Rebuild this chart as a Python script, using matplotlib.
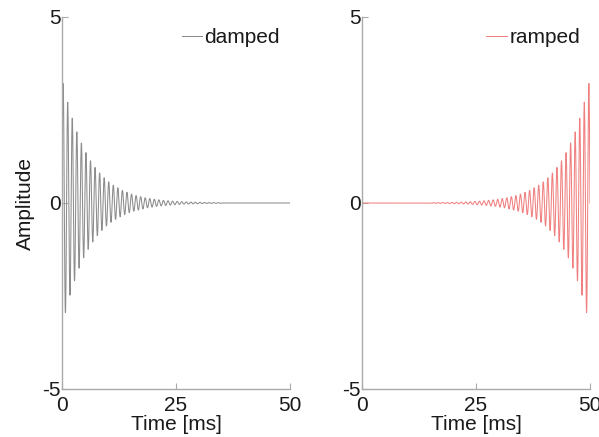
import matplotlib
matplotlib.use("Agg")
import matplotlib.pyplot as plt
import numpy as np

plt.rcParams['font.family'] = ['Liberation Sans', 'DejaVu Sans']
plt.rcParams['axes.unicode_minus'] = False

# half-cycle peak amplitudes of the damped tone (one per 0.5 ms)
half_peaks = [3.23, 2.96, 2.72, 2.49, 2.29, 2.10, 1.92, 1.76, 1.62, 1.48,
              1.36, 1.25, 1.14, 1.05, 0.96, 0.88, 0.81, 0.74, 0.68, 0.62,
              0.57, 0.52, 0.48, 0.44, 0.41, 0.37, 0.34, 0.31, 0.29, 0.26,
              0.24, 0.22, 0.20, 0.19, 0.17, 0.16, 0.14, 0.13, 0.12, 0.11,
              0.10, 0.09, 0.085, 0.078, 0.071, 0.065, 0.060, 0.055, 0.050, 0.046,
              0.042, 0.039, 0.035, 0.032, 0.030, 0.027, 0.025, 0.023, 0.021, 0.019,
              0.017, 0.016, 0.015, 0.013, 0.012, 0.011, 0.010, 0.009, 0.008, 0.007]
half_period = 0.5   # ms
duration = 50       # ms
x_ticks = [0, 25, 50]
y_ticks = [-5, 0, 5]
labels = ['damped', 'ramped']
colors = ['#8c8c8c', '#f08080']

# build the damped tone lobe by lobe from the peak list
n_half = int(duration / half_period)
peaks = np.zeros(n_half)
peaks[:len(half_peaks)] = half_peaks
t_parts, y_parts = [], []
for k in range(n_half):
    tt = np.linspace(k * half_period, (k + 1) * half_period, 16)
    t_parts.append(tt)
    y_parts.append(peaks[k] * np.sin(np.pi * tt / half_period))
t = np.concatenate(t_parts)
damped = np.concatenate(y_parts)
# ramped is the same tone played backwards
ramped = damped[::-1]
t_r = duration - t[::-1]

fig = plt.figure(figsize=(5.99, 4.37), dpi=100)
ax1 = fig.add_axes([62/599, 48/437, 228/599, 372/437])
ax2 = fig.add_axes([362/599, 48/437, 228/599, 372/437])

fs = 15
for ax, tt, yy, lab, col in [(ax1, t, damped, labels[0], colors[0]),
                             (ax2, t_r, ramped, labels[1], colors[1])]:
    ax.plot(tt, yy, color=col, lw=0.75, label=lab)
    ax.set_xlim(0, duration)
    ax.set_ylim(-5, 5)
    ax.set_xticks(x_ticks)
    ax.set_yticks(y_ticks)
    for s in ['top', 'right']:
        ax.spines[s].set_visible(False)
    for s in ['left', 'bottom']:
        ax.spines[s].set_color('#aaaaaa')
        ax.spines[s].set_linewidth(1.0)
    ax.tick_params(direction='in', length=4, color='#aaaaaa', labelsize=fs,
                   labelcolor='#1a1a1a')
    ax.tick_params(axis='y', pad=1)
    ax.tick_params(axis='x', pad=5)
    ax.set_xlabel('Time [ms]', fontsize=fs, color='#1a1a1a', labelpad=0)
    leg = ax.legend(loc='upper right', bbox_to_anchor=(0.956, 0.97), frameon=False,
                    borderaxespad=0, borderpad=0, handlelength=1.0, handletextpad=0.1,
                    fontsize=fs)
    for txt in leg.get_texts():
        txt.set_color('#1a1a1a')

ax1.set_ylabel('Amplitude', fontsize=fs, color='#1a1a1a', labelpad=5)

fig.savefig('out.png', dpi=100)
